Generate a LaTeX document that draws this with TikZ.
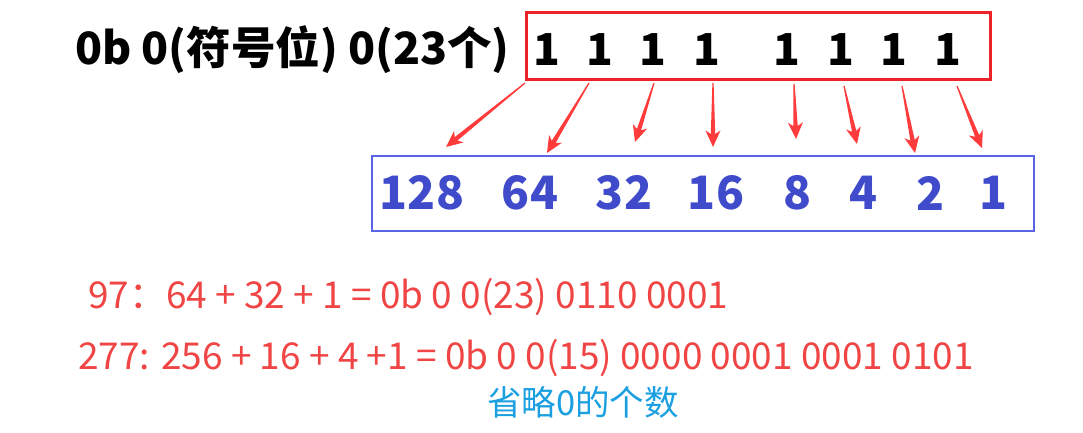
\documentclass[tikz,border=0pt]{standalone}
\usepackage{fontspec}
\setmainfont{Noto Sans CJK SC}
\usetikzlibrary{calc}
\definecolor{boxred}{HTML}{EE2229}
\definecolor{arrred}{HTML}{FF3B3B}
\definecolor{numblue}{HTML}{3F4BCB}
\definecolor{boxblue}{HTML}{5A66E6}
\definecolor{txtred}{HTML}{F04545}
\definecolor{txtcyan}{HTML}{1A9FE0}
\tikzset{
  head/.style={font=\fontsize{44.5}{44.5}\selectfont\bfseries, text=black, inner sep=0pt, anchor=west},
  bit/.style={font=\fontsize{44}{44}\selectfont\bfseries, text=black, inner sep=0pt},
  weight/.style={font=\fontsize{46}{46}\selectfont\bfseries, text=numblue, inner sep=0pt},
  redline/.style={font=\fontsize{37}{37}\selectfont, text=txtred, inner sep=0pt, anchor=west},
  note/.style={font=\fontsize{34.5}{34.5}\selectfont, text=txtcyan, inner sep=0pt, anchor=west},
  arrfill/.style={fill=arrred, draw=none},
}
\begin{document}
\begin{tikzpicture}[x=1pt,y=-1pt]
\useasboundingbox (0,0) rectangle (1083,433);
% heading
\node[head] (hd) at (75,50) {0b 0(符号位) 0(23个)};
% red box
\draw[boxred, line width=3pt] (526,13) rectangle (990,80);
% bits
\foreach \i/\x in {1/547,2/600,3/653,4/707,5/787,6/841,7/894,8/948}
  \node[bit] (b\i) at (\x,50) {1};
% blue box
\draw[boxblue, line width=1.6pt] (372,156) rectangle (1034,231);
% weights
\foreach \i/\x/\t in {1/422/128,2/530/64,3/624/32,4/716/16,5/797/8,6/863/4,7/930/2,8/993/1}
  \node[weight] (w\i) at (\x,193) {\t};
% tapered arrows
\foreach \i/\sx/\sy/\tx/\ty in {1/525/83/446/147,2/589/83/547/153,3/654/83/635/142,4/713/83/713/147,5/794/84/796/139,6/844/86/857/144,7/902/86/915/153,8/957/86/982/148}{
  \coordinate (s\i) at (\sx,\sy);
  \coordinate (t\i) at (\tx,\ty);
  \coordinate (a\i) at ($(t\i)!13pt!(s\i)$);
  \coordinate (c\i) at ($(t\i)!16.5pt!(s\i)$);
  \fill[arrfill] ($(s\i)!0.6pt!90:(t\i)$) -- ($(a\i)!2.2pt!90:(t\i)$) -- ($(c\i)!7.5pt!90:(t\i)$) -- (t\i)
     -- ($(c\i)!7.5pt!-90:(t\i)$) -- ($(a\i)!2.2pt!-90:(t\i)$) -- ($(s\i)!0.6pt!-90:(t\i)$) -- cycle;
}
% red text
\node[redline] (l1) at (88,297) {97：64 + 32 + 1 = 0b 0 0(23) 0110 0001};
\node[redline] (l2) at (78,358) {277: 256 + 16 + 4 +1 = 0b 0 0(15) 0000 0001 0001 0101};
\node[note] (nt) at (487,402) {省略0的个数};
\end{tikzpicture}
\end{document}
